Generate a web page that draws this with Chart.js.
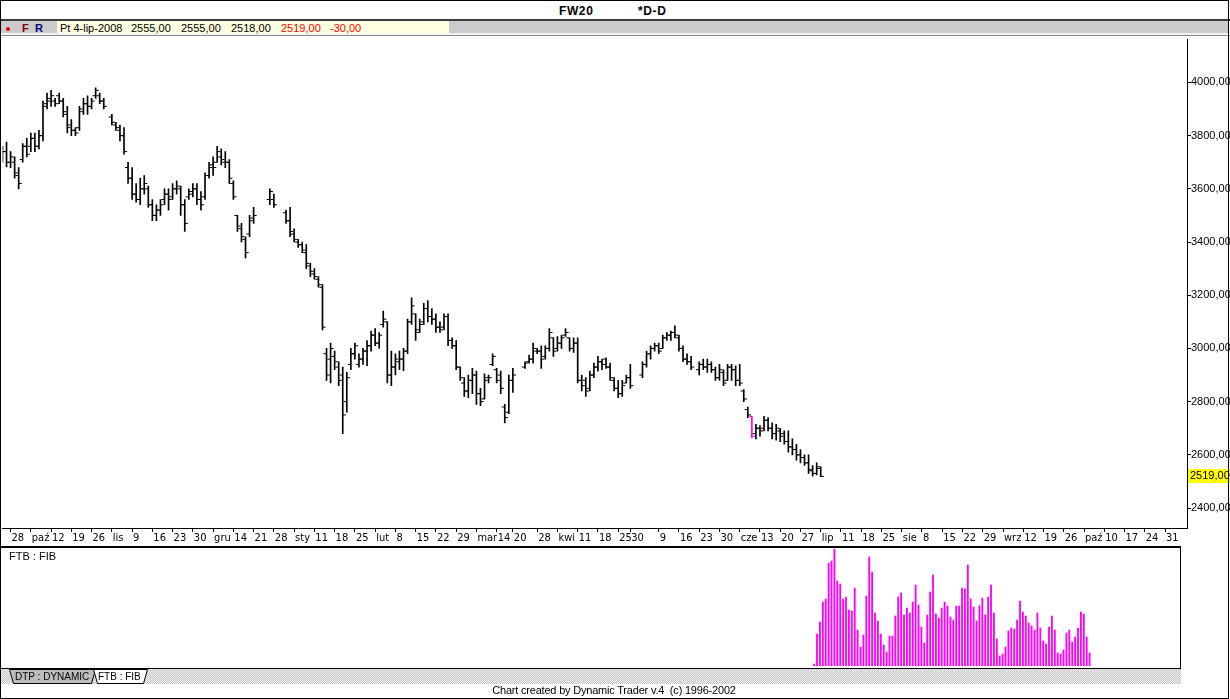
<!DOCTYPE html>
<html lang="pl">
<head>
<meta charset="UTF-8">
<title>FW20 *D-D</title>
<script src="https://cdn.jsdelivr.net/npm/chart.js"></script>
<style>
    html, body { margin: 0; padding: 0; background: #fff; }
    body {
        width: 1230px; height: 699px; position: relative; overflow: hidden;
        font-family: 'Liberation Sans', Arial, sans-serif; font-size: 11px; color: #000;
    }
    .abs { position: absolute; }
    #frame { left: 0; top: 0; width: 1229px; height: 699px; box-sizing: border-box; border: 1px solid #000; pointer-events: none; z-index: 10; }
    .title { top: 4px; font-weight: bold; font-size: 12px; letter-spacing: 0.6px; }
    #titleLine { left: 0; top: 19px; width: 1230px; height: 2px; background: #3c3c3c; }
    #toolbar { left: 1px; top: 21px; width: 1227px; height: 12px; background: #cbcbcb; border-bottom: 2px solid #f4f4f4; }
    #toolbarLine { left: 0; top: 35px; width: 1230px; height: 1px; background: #8a8a8a; }
    #dot { left: 6px; top: 27px; width: 4px; height: 4px; border-radius: 50%; background: #e00000; }
    .tb { top: 22px; font-weight: bold; font-size: 11px; }
    #info { left: 57px; top: 21px; width: 392px; height: 12px; background: #ffffe1; }
    .it { top: 22px; font-size: 11px; line-height: 12px; }
    .red { color: #ff0000; }
    #priceBox { left: 0; top: 37px; width: 1230px; height: 510px; }
    #lowerPanel { left: 0; top: 546px; width: 1181px; height: 123px; box-sizing: border-box;
        border-top: 2px solid #000; border-right: 1px solid #000; border-bottom: 1px solid #000; overflow: hidden; background: #fff; }
    #fibBox { position: absolute; left: 0; top: 0; width: 1187px; height: 118px; }
    #fibLabel { position: absolute; left: 9px; top: 2px; font-size: 11px; z-index: 2; }
    #tabStrip { left: 1px; top: 669px; width: 1180px; height: 15px;
        background: repeating-conic-gradient(#c4c4c4 0% 25%, #f2f2f2 0% 50%) 0 0 / 2px 2px; }
    #tabs { position: absolute; left: 0; top: 0; }
    #tabs text { font-family: 'Liberation Sans', Arial, sans-serif; font-size: 10px; }
    #footer { left: 0; top: 684px; width: 1228px; text-align: center; font-size: 11px; letter-spacing: -0.2px; }
</style>
</head>
<body>
    <div class="abs title" style="left:559px">FW20</div>
    <div class="abs title" style="left:638px">*D-D</div>
    <div class="abs" id="titleLine"></div>
    <div class="abs" id="toolbar"></div>
    <div class="abs" id="toolbarLine"></div>
    <div class="abs" id="dot"></div>
    <div class="abs tb" style="left:22px; color:#800000">F</div>
    <div class="abs tb" style="left:35px; color:#000080">R</div>
    <div class="abs" id="info"></div>
    <div class="abs it" style="left:60px">Pt 4-lip-2008</div>
    <div class="abs it" style="left:131px">2555,00</div>
    <div class="abs it" style="left:181px">2555,00</div>
    <div class="abs it" style="left:231px">2518,00</div>
    <div class="abs it red" style="left:281px">2519,00</div>
    <div class="abs it red" style="left:330px">-30,00</div>

    <div class="abs" id="priceBox"><canvas id="priceChart"></canvas></div>

    <div class="abs" id="lowerPanel">
        <div id="fibLabel">FTB : FIB</div>
        <div id="fibBox"><canvas id="fibChart"></canvas></div>
    </div>

    <div class="abs" id="tabStrip">
        <svg id="tabs" width="160" height="15">
            <polygon points="8.5,0.5 94.5,0.5 90.5,14.5 12.5,14.5" fill="#bdbdbd" stroke="#000"/>
            <text x="14" y="11">DTP : DYNAMIC</text>
            <polygon points="92.5,0.5 146.5,0.5 142.5,14.5 96.5,14.5" fill="#fff" stroke="#000"/>
            <text x="97" y="11">FTB : FIB</text>
        </svg>
    </div>
    <div class="abs" id="footer">Chart created by Dynamic Trader v.4&nbsp; (c) 1996-2002</div>
    <div class="abs" id="frame"></div>

<script>
    // --- dane: FW20, notowania dzienne (dni robocze od 26-09-2007) ---
    const axisStart = '2007-09-24';   // poniedziałek = indeks 0 osi dni roboczych
    const firstBar = '2007-09-26';
    const markedBar = '2008-06-11';   // świeca wyróżniona na różowo

    const opens = [
        3720, 3740, 3700,
        3700, 3650, 3710, 3760, 3760,
        3790, 3760, 3800, 3920, 3930,
        3930, 3950, 3930, 3880, 3840,
        3820, 3830, 3890, 3920, 3910,
        3950, 3950, 3930, null, 3870,
        3840, 3820, 3800, 3680, 3640,
        3580, 3560, 3600, 3600, 3540,
        3500, 3520, 3560, 3580, 3570,
        3600, 3600, 3540, 3570, 3580,
        3600, 3560, 3570, 3650, 3690,
        3700, 3720, 3700, 3700, 3620,
        3500, 3450, 3410, 3430, 3490,
        null, null, null, 3560, 3560,
        null, null, 3510, 3480, 3430,
        3400, 3390, 3360, 3310, 3280,
        3260, 3230, 2980, 2960, 2970,
        2930, 2900, 2800, 2940, 2980,
        2940, 2960, 2990, 3010, 3050,
        3020, 3090, 3100, 2900, 2930,
        2950, 2960, 2990, 3100, 3130,
        3060, 3100, 3150, 3120, 3110,
        3080, 3080, 3120, 3030, 3010,
        2930, 2870, 2840, 2880, 2900,
        2830, 2810, 2890, 2940, 2920,
        2900, 2780, 2760, 2880, null,
        null, 2930, 2950, 2960, 2990,
        2990, 2970, 3000, 3040, 3000,
        3020, 3050, 3040, 3000, 3020,
        2880, 2880, 2850, 2900, 2930,
        2950, 2960, 2930, 2880, 2850,
        2830, 2870, 2890, null, null,
        2900, 2940, 2980, 3000, 3010,
        3000, 3040, 3050, 3060, 3040,
        3000, 2960, 2950, null, 2920,
        2940, 2930, 2940, 2920, 2890,
        2910, 2880, 2930, 2920, 2880,
        2840, 2770, 2745, 2680, 2700,
        2700, 2730, 2700, 2680, 2690,
        2680, 2650, 2630, 2620, 2600,
        2590, 2570, 2540, 2530, 2555
    ];
    const highs = [
        3760, 3776, 3740,
        3720, 3680, 3770, 3790, 3810,
        3810, 3820, 3930, 3960, 3970,
        3940, 3960, 3940, 3910, 3860,
        3830, 3910, 3940, 3950, 3940,
        3980, 3960, 3940, null, 3880,
        3850, 3840, 3830, 3700, 3680,
        3620, 3640, 3650, 3610, 3560,
        3540, 3560, 3600, 3600, 3620,
        3630, 3610, 3560, 3600, 3620,
        3620, 3590, 3660, 3700, 3720,
        3760, 3750, 3740, 3710, 3630,
        3500, 3470, 3420, 3500, 3530,
        null, null, null, 3600, 3580,
        null, null, 3520, 3530, 3450,
        3410, 3400, 3390, 3320, 3300,
        3270, 3240, 3000, 3020, 2990,
        2950, 2930, 2910, 3000, 3020,
        2980, 3000, 3030, 3065, 3075,
        3060, 3140, 3100, 2990, 2980,
        2990, 3000, 3110, 3190, 3130,
        3110, 3170, 3180, 3150, 3130,
        3100, 3130, 3130, 3040, 3030,
        2930, 2890, 2900, 2925, 2915,
        2850, 2905, 2900, 2980, 2925,
        2915, 2790, 2900, 2925, null,
        null, 2950, 2975, 3020, 3000,
        3010, 3010, 3075, 3040, 3045,
        3050, 3075, 3040, 3040, 3040,
        2900, 2890, 2915, 2945, 2970,
        2960, 2965, 2945, 2890, 2880,
        2880, 2900, 2940, null, null,
        2950, 2990, 3010, 3020, 3020,
        3050, 3060, 3065, 3085, 3050,
        3010, 2980, 2970, null, 2950,
        2960, 2960, 2950, 2930, 2940,
        2920, 2940, 2940, 2935, 2940,
        2845, 2780, 2745, 2715, 2710,
        2745, 2740, 2720, 2715, 2700,
        2690, 2690, 2660, 2640, 2620,
        2600, 2600, 2560, 2570, 2555
    ];
    const lows = [
        3700, 3682, 3680,
        3640, 3600, 3700, 3720, 3740,
        3740, 3750, 3780, 3900, 3910,
        3910, 3920, 3870, 3810, 3800,
        3800, 3820, 3880, 3880, 3900,
        3940, 3920, 3900, null, 3840,
        3820, 3780, 3730, 3620, 3560,
        3550, 3540, 3580, 3530, 3480,
        3480, 3500, 3540, 3520, 3560,
        3580, 3500, 3440, 3560, 3570,
        3540, 3520, 3560, 3640, 3650,
        3700, 3690, 3680, 3620, 3560,
        3440, 3400, 3340, 3420, 3470,
        null, null, null, 3540, 3530,
        null, null, 3470, 3420, 3400,
        3380, 3360, 3300, 3270, 3260,
        3230, 3070, 2880, 2870, 2920,
        2860, 2680, 2760, 2920, 2960,
        2930, 2940, 2935, 2990, 3010,
        3000, 3080, 2870, 2860, 2900,
        2920, 2916, 2980, 3090, 3030,
        3060, 3090, 3100, 3090, 3060,
        3060, 3070, 3010, 3000, 2920,
        2880, 2820, 2815, 2830, 2790,
        2785, 2810, 2870, 2935, 2870,
        2830, 2720, 2755, 2835, null,
        null, 2925, 2945, 2945, 2980,
        2925, 2960, 2990, 2970, 2990,
        3000, 3045, 2990, 2985, 2870,
        2840, 2820, 2840, 2890, 2915,
        2920, 2925, 2880, 2840, 2815,
        2820, 2870, 2850, null, null,
        2890, 2930, 2960, 2990, 2980,
        3000, 3030, 3030, 3040, 2990,
        2950, 2940, 2920, null, 2900,
        2920, 2910, 2910, 2880, 2880,
        2860, 2880, 2880, 2860, 2860,
        2800, 2740, 2665, 2660, 2670,
        2690, 2690, 2660, 2655, 2650,
        2640, 2610, 2600, 2580, 2570,
        2560, 2530, 2520, 2525, 2518
    ];
    const closes = [
        3740, 3700, 3720,
        3660, 3620, 3760, 3730, 3790,
        3760, 3800, 3910, 3940, 3950,
        3920, 3930, 3890, 3830, 3820,
        3810, 3900, 3920, 3910, 3930,
        3970, 3930, 3910, null, 3850,
        3830, 3800, 3740, 3640, 3580,
        3560, 3600, 3620, 3540, 3500,
        3520, 3540, 3580, 3560, 3600,
        3610, 3540, 3470, 3590, 3600,
        3560, 3540, 3650, 3680, 3680,
        3740, 3710, 3700, 3640, 3570,
        3460, 3420, 3360, 3480, 3500,
        null, null, null, 3590, 3540,
        null, null, 3480, 3440, 3410,
        3390, 3370, 3320, 3290, 3270,
        3240, 3080, 2900, 3000, 2950,
        2880, 2750, 2890, 2980, 3010,
        2960, 2990, 3010, 3050, 3020,
        3050, 3110, 2900, 2930, 2960,
        2960, 2990, 3100, 3160, 3070,
        3090, 3150, 3120, 3110, 3080,
        3070, 3120, 3030, 3010, 2930,
        2890, 2840, 2880, 2900, 2830,
        2800, 2880, 2890, 2970, 2880,
        2850, 2740, 2880, 2900, null,
        null, 2945, 2960, 3000, 2990,
        2960, 3000, 3060, 2990, 3020,
        3040, 3060, 3000, 3020, 2880,
        2860, 2840, 2900, 2930, 2950,
        2940, 2930, 2890, 2850, 2830,
        2860, 2890, 2860, null, null,
        2940, 2980, 3000, 3010, 2990,
        3040, 3050, 3060, 3050, 3000,
        2960, 2950, 2930, null, 2940,
        2930, 2940, 2920, 2890, 2920,
        2870, 2930, 2920, 2880, 2870,
        2810, 2750, 2670, 2700, 2690,
        2730, 2700, 2680, 2700, 2670,
        2650, 2630, 2620, 2600, 2590,
        2570, 2545, 2530, 2549, 2519
    ];

    // --- oś czasu: etykiety tygodniowe ---
    const tickDates = [
        '2007-09-28', '2007-10-05', '2007-10-12', '2007-10-19', '2007-10-26',
        '2007-11-02', '2007-11-09', '2007-11-16', '2007-11-23', '2007-11-30',
        '2007-12-07', '2007-12-14', '2007-12-21', '2007-12-28',
        '2008-01-04', '2008-01-11', '2008-01-18', '2008-01-25',
        '2008-02-01', '2008-02-08', '2008-02-15', '2008-02-22', '2008-02-29',
        '2008-03-07', '2008-03-14', '2008-03-20', '2008-03-28',
        '2008-04-04', '2008-04-11', '2008-04-18', '2008-04-25', '2008-04-30',
        '2008-05-09', '2008-05-16', '2008-05-23', '2008-05-30',
        '2008-06-06', '2008-06-13', '2008-06-20', '2008-06-27',
        '2008-07-04', '2008-07-11', '2008-07-18', '2008-07-25',
        '2008-08-01', '2008-08-08', '2008-08-15', '2008-08-22', '2008-08-29',
        '2008-09-05', '2008-09-12', '2008-09-19', '2008-09-26',
        '2008-10-03', '2008-10-10', '2008-10-17', '2008-10-24', '2008-10-31'
    ];
    const tickLabels = [
        '28', 'paź', '12', '19', '26',
        'lis', '9', '16', '23', '30',
        'gru', '14', '21', '28',
        'sty', '11', '18', '25',
        'lut', '8', '15', '22', '29',
        'mar', '14', '20', '28',
        'kwi', '11', '18', '25', '30',
        '9', '16', '23', '30',
        'cze', '13', '20', '27',
        'lip', '11', '18', '25',
        'sie', '8', '15', '22', '29',
        'wrz', '12', '19', '26',
        'paź', '10', '17', '24', '31'
    ];
    const yTicks = [2400, 2600, 2800, 3000, 3200, 3400, 3600, 3800, 4000];

    // --- FTB : FIB, wartości dzienne (kalendarzowe) od 2-07-2008 ---
    const fibStart = '2008-07-02';
    const fibValues = [
        2, 32, 44, 64, 67, 103, 105, 117, 85, 82,
        67, 69, 56, 55, 78, 36, 19, 31, 70, 109,
        94, 53, 45, 32, 21, 14, 30, 30, 50, 69,
        73, 51, 58, 53, 64, 81, 61, 39, 23, 51,
        74, 91, 52, 48, 58, 64, 60, 49, 46, 60,
        60, 78, 77, 101, 67, 59, 45, 60, 68, 51,
        69, 81, 53, 27, 10, 12, 19, 35, 38, 37,
        46, 65, 54, 50, 43, 40, 36, 53, 38, 25,
        22, 39, 50, 36, 13, 12, 16, 33, 36, 24,
        29, 38, 54, 52, 29, 13
    ];

    // --- zakresy osi ---
    const xMin = 2.03, xMax = 294.42;   // dni robocze
    const yMin = 2325, yMax = 4161;     // punkty
    const fibMax = 118;

    const DAY = 86400000;
    function weekdayIndex(iso) {
        const d = Math.round((Date.parse(iso) - Date.parse(axisStart)) / DAY);
        return Math.floor(d / 7) * 5 + (d % 7);
    }
    function fmt(v) {
        return v.toFixed(2).replace('.', ',');
    }

    const bar0 = weekdayIndex(firstBar);
    const markIdx = weekdayIndex(markedBar);
    const tickIdx = tickDates.map(weekdayIndex);
    const tickOff = 0.38;

    const hlData = [], openData = [], closeData = [];
    highs.forEach((h, k) => {
        if (h === null) return;
        const x = bar0 + k;
        hlData.push({ x: x, y: [lows[k], h] });
        openData.push({ x: x - tickOff, y: opens[k] });
        closeData.push({ x: x + tickOff, y: closes[k] });
    });
    const colorOf = ctx => {
        const raw = ctx.raw;
        if (!raw) return '#000';
        return Math.round(raw.x) === markIdx ? '#ff00ff' : '#000';
    };

    // fib: dni kalendarzowe na osi dni roboczych (5/7)
    const lastIdx = weekdayIndex('2008-07-04');
    const fibOffset = Math.round((Date.parse(fibStart) - Date.parse('2008-07-04')) / DAY);
    const fibData = fibValues.map((v, k) => ({ x: lastIdx + (fibOffset + k) * 5 / 7, y: v }));

    const lastClose = closes[closes.length - 1];

    Chart.defaults.font.family = "'Liberation Sans', Arial, sans-serif";
    Chart.defaults.font.size = 11;
    Chart.defaults.color = '#000';

    const lastPricePlugin = {
        id: 'lastPrice',
        afterDraw(chart) {
            const ys = chart.scales.y;
            const py = Math.round(ys.getPixelForValue(lastClose));
            const ctx = chart.ctx;
            ctx.save();
            ctx.fillStyle = '#ffff00';
            ctx.fillRect(ys.left + 1, py - 7, ys.width, 14);
            ctx.fillStyle = '#000';
            ctx.font = "11px 'Liberation Sans', Arial, sans-serif";
            ctx.textBaseline = 'middle';
            ctx.fillText(fmt(lastClose), ys.left + 3, py);
            ctx.restore();
        }
    };

    new Chart(document.getElementById('priceChart'), {
        type: 'bar',
        data: {
            datasets: [
                { type: 'bar', data: hlData, backgroundColor: colorOf, barThickness: 1, grouped: false, order: 2 },
                { type: 'line', data: openData, showLine: false, pointStyle: 'line', pointRadius: 1.6, pointHoverRadius: 1.6,
                  pointBorderWidth: 1, pointBorderColor: colorOf, order: 1 },
                { type: 'line', data: closeData, showLine: false, pointStyle: 'line', pointRadius: 1.6, pointHoverRadius: 1.6,
                  pointBorderWidth: 1, pointBorderColor: colorOf, order: 1 }
            ]
        },
        options: {
            animation: false,
            responsive: true,
            maintainAspectRatio: false,
            layout: { padding: 0 },
            plugins: { legend: { display: false }, tooltip: { enabled: false } },
            scales: {
                x: {
                    type: 'linear', position: 'bottom', min: xMin, max: xMax, offset: false,
                    afterBuildTicks: s => { s.ticks = tickIdx.map(v => ({ value: v })); },
                    afterFit: s => { s.height = 19; s.paddingLeft = 0; s.paddingRight = 0; },
                    grid: { drawOnChartArea: false, drawTicks: true, tickLength: 4, color: '#000', offset: false },
                    border: { display: true, color: '#000', width: 1 },
                    ticks: { autoSkip: false, maxRotation: 0, minRotation: 0, align: 'start', padding: 0,
                             font: { family: "'Liberation Sans Narrow', 'DejaVu Sans Condensed', 'Liberation Sans', sans-serif", size: 11 },
                             callback: (v, i) => '\u200A' + tickLabels[i] }
                },
                y: {
                    type: 'linear', position: 'right', min: yMin, max: yMax,
                    afterBuildTicks: s => { s.ticks = yTicks.map(v => ({ value: v })); },
                    afterFit: s => { s.width = 43; s.paddingTop = 0; s.paddingBottom = 0; },
                    grid: { drawOnChartArea: false, tickLength: 4, color: '#000' },
                    border: { display: true, color: '#000', width: 1 },
                    ticks: { padding: 0, callback: v => fmt(v) }
                }
            }
        },
        plugins: [lastPricePlugin]
    });

    new Chart(document.getElementById('fibChart'), {
        type: 'bar',
        data: {
            datasets: [{ data: fibData, backgroundColor: '#ff00ff', barThickness: 1.2, grouped: false }]
        },
        options: {
            animation: false,
            responsive: true,
            maintainAspectRatio: false,
            layout: { padding: 0 },
            plugins: { legend: { display: false }, tooltip: { enabled: false } },
            scales: {
                x: { type: 'linear', display: false, min: xMin, max: xMax, offset: false },
                y: { display: false, min: 0, max: fibMax }
            }
        }
    });
</script>
</body>
</html>
